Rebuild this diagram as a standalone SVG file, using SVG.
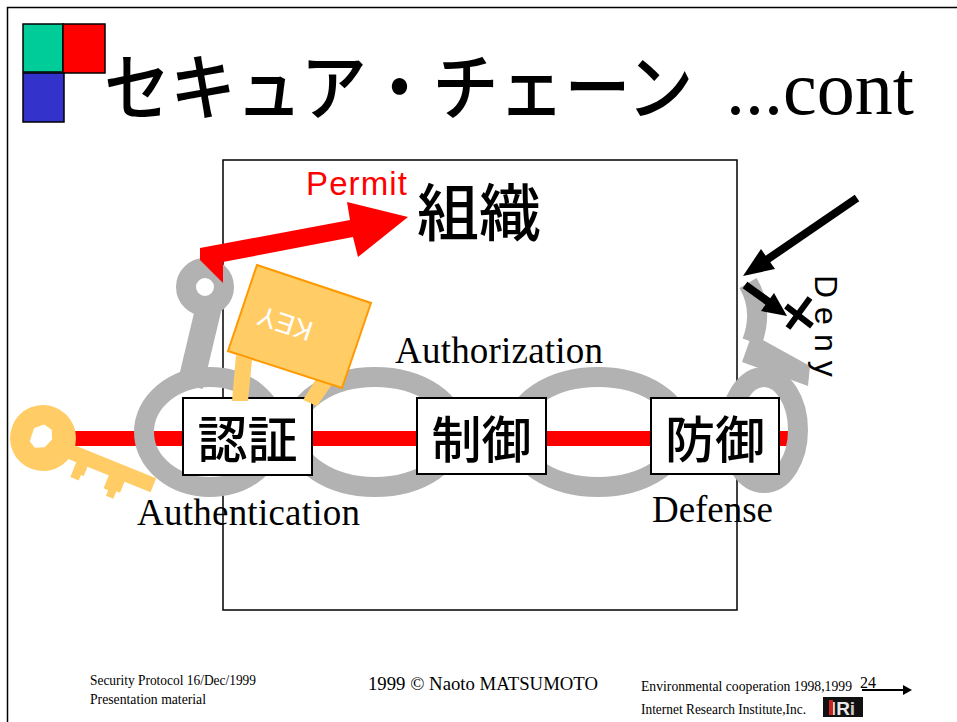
<svg xmlns="http://www.w3.org/2000/svg" width="957" height="722" viewBox="0 0 957 722">
  <style>
    .jp { font-family: "Noto Sans CJK JP", "Noto Sans CJK SC", sans-serif; fill: #000; }
    .serif { font-family: "Liberation Serif", "Times New Roman", serif; fill: #000; }
    .sans { font-family: "Liberation Sans", Arial, sans-serif; }
    .link { fill: none; stroke: #B2B2B2; stroke-width: 20; }
    .box { fill: #fff; stroke: #000; stroke-width: 2; }
    .gold { fill: #FFCC66; }
    .blk { stroke: #000; stroke-width: 8; fill: none; }
  </style>

  <!-- slide frame -->
  <path d="M7.5,722 V7.5 H957" fill="none" stroke="#000" stroke-width="1.5"/>

  <!-- logo squares -->
  <g id="logo" stroke="#000" stroke-width="1.5">
    <rect x="23" y="24" width="40" height="48" fill="#00CC99"/>
    <rect x="63" y="24" width="42" height="49" fill="#FF0000"/>
    <rect x="23" y="73" width="41" height="49" fill="#3333CC"/>
  </g>

  <!-- title -->
  <g id="title">
    <text class="jp" transform="translate(104,114) scale(1,1.1)" x="0" y="0" font-size="66" font-weight="500">セキュア・チェーン</text>
    <text class="serif" x="726" y="114" font-size="76">...cont</text>
  </g>

  <!-- organisation frame -->
  <rect id="organisation" x="223" y="160" width="514" height="450" fill="none" stroke="#000" stroke-width="1.5"/>

  <g id="connectors">
    <!-- red path through the chain -->
    <rect x="60" y="431" width="730" height="15" fill="#FF0000"/>
  </g>

  <!-- key on the left -->
  <g id="key" transform="translate(43,438) rotate(22)">
    <circle class="gold" cx="0" cy="0" r="33"/>
    <rect class="gold" x="22" y="-5" width="98" height="15"/>
    <polygon class="gold" points="40,9 52,9 52,20 49,20 49,26 40,26"/>
    <polygon class="gold" points="75,9 92,9 92,22 88,22 88,30 80,30 80,24 75,24"/>
    <polygon points="-12,-6 -4,-13 5,-11 9,-2 5,8 -4,12 -11,8" fill="#fff"/>
  </g>

  <!-- chain links -->
  <g id="chain">
    <circle class="link" cx="205" cy="287" r="19" stroke-width="19"/>
    <line x1="210" y1="302" x2="190" y2="386" stroke="#B2B2B2" stroke-width="26"/>
    <ellipse class="link" cx="210" cy="432" rx="66" ry="55"/>
    <ellipse class="link" cx="375" cy="432" rx="82" ry="55"/>
    <ellipse class="link" cx="598" cy="432" rx="84" ry="55"/>
    <ellipse class="link" cx="764" cy="430" rx="34" ry="53"/>
    <path d="M748,283 Q764,310 752,342" fill="none" stroke="#B2B2B2" stroke-width="20"/>
    <polygon points="752,334 810,366 808,386 742,362" fill="#B2B2B2"/>
    <path d="M741,300 Q747,315 741,330" fill="none" stroke="#fff" stroke-width="3"/>
  </g>

  <!-- permit arrow -->
  <g id="permit">
    <polygon points="200,248 350,220 347,202 408,217 358,257 353,237 223,262 223,283 200,260" fill="#FF0000"/>
    <text class="sans" x="306" y="195" font-size="33" fill="#FF0000" textLength="101">Permit</text>
  </g>

  <text id="org-label" class="jp" x="417" y="236" font-size="62" font-weight="500">組織</text>

  <!-- security stages -->
  <g id="auth">
    <rect class="box" x="183" y="398" width="129" height="77"/>
    <text class="jp" x="247.5" y="458" font-size="50" font-weight="500" text-anchor="middle">認証</text>
  </g>
  <g id="control">
    <rect class="box" x="417" y="398" width="129" height="76"/>
    <text class="jp" x="481.5" y="458" font-size="50" font-weight="500" text-anchor="middle">制御</text>
  </g>
  <g id="defense">
    <rect class="box" x="651" y="398" width="128" height="76"/>
    <text class="jp" x="715" y="458" font-size="50" font-weight="500" text-anchor="middle">防御</text>
  </g>

  <!-- padlock tag -->
  <g id="padlock">
    <polygon class="gold" points="236,355 252,360 248,401 232,401"/>
    <polygon class="gold" points="318,376 333,383 317,406 303,400"/>
    <polygon points="257,265 371,303 342,388 228,351" fill="#FFCC66" stroke="#FF9900" stroke-width="2"/>
    <text class="sans" transform="translate(285,324) rotate(198.4)" x="0" y="10" font-size="28" fill="#fff" text-anchor="middle">KEY</text>
  </g>

  <!-- stage captions -->
  <text class="serif" x="137" y="525" font-size="37" textLength="223">Authentication</text>
  <text class="serif" x="395" y="363" font-size="37" textLength="208">Authorization</text>
  <text class="serif" x="652" y="522" font-size="37" textLength="121">Defense</text>

  <!-- denied intrusion -->
  <g id="deny">
    <line class="blk" x1="857" y1="198" x2="765" y2="261"/>
    <polygon points="743,276 761,249 775,269" fill="#000"/>
    <line class="blk" x1="745" y1="285" x2="770" y2="303"/>
    <polygon points="787,316 761,311 774,293" fill="#000"/>
    <line x1="788" y1="328" x2="810" y2="298" stroke="#000" stroke-width="6"/>
    <line x1="786" y1="306" x2="812" y2="326" stroke="#000" stroke-width="6"/>
    <text class="sans" transform="translate(815,275) rotate(90)" x="0" y="0" font-size="32" letter-spacing="9" fill="#000">Deny</text>
  </g>

  <!-- footer -->
  <g id="footer">
    <text class="serif" x="90" y="685" font-size="14" textLength="166" lengthAdjust="spacingAndGlyphs">Security Protocol  16/Dec/1999</text>
    <text class="serif" x="90" y="704" font-size="14" textLength="116" lengthAdjust="spacingAndGlyphs">Presentation material</text>
    <text class="serif" x="368" y="690" font-size="18" textLength="230" lengthAdjust="spacingAndGlyphs">1999 © Naoto MATSUMOTO</text>
    <text class="serif" x="641" y="691" font-size="14" textLength="211" lengthAdjust="spacingAndGlyphs">Environmental cooperation 1998,1999</text>
    <text class="serif" x="860" y="688" font-size="16">24</text>
    <line x1="862" y1="690" x2="904" y2="690" stroke="#000" stroke-width="2"/>
    <polygon points="912,690 903,685 903,695" fill="#000"/>
    <text class="serif" x="641" y="714" font-size="14" textLength="165" lengthAdjust="spacingAndGlyphs">Internet Research Institute,Inc.</text>
    <rect x="823" y="697" width="40" height="20" fill="#111"/>
    <text class="sans" x="843" y="715" font-size="19" font-weight="bold" text-anchor="middle" fill="#ddd">I<tspan fill="#e8e8e8">R</tspan><tspan fill="#ccc">i</tspan></text>
    <rect x="829" y="700" width="4" height="15" fill="#cc2222"/>
  </g>
</svg>
